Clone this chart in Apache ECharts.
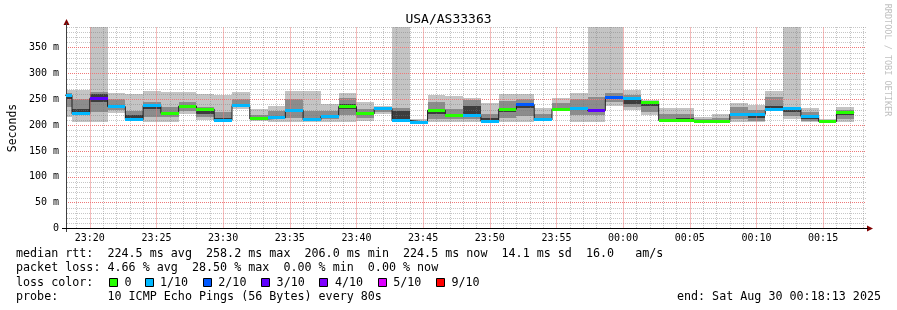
<!DOCTYPE html>
<html><head><meta charset="utf-8">
<script src="https://cdn.jsdelivr.net/npm/echarts@6/dist/echarts.min.js"></script>
<style>html,body{margin:0;padding:0;background:#fff}#c{width:897px;height:310px}</style>
</head><body><div id="c"></div>
<script>
// ---------------- data ----------------
const chartTitle = 'USA/AS33363';
const yAxisName = 'Seconds';
const watermark = 'RRDTOOL / TOBI OETIKER';
const windowStart = '23:18:13';
const windowEnd = '00:18:13';
const firstStepStart = '23:17:20';
const stepSeconds = 80;
const yMax = 390;
const xTickLabels = ['23:20','23:25','23:30','23:35','23:40','23:45','23:50','23:55','00:00','00:05','00:10','00:15'];
const yTickValues = [0,50,100,150,200,250,300,350];

// median RTT per 80s step (ms)
const median = [258,222,252,236,211,238,223,237,231,209,238,212,214,229,210,217,236,222,232,209,206,229,218,218,208,231,240,210,231,232,228,253,251,244,209,209,207,207,221,221,231,232,217,207,224.5];
// lost pings out of 10 per step
const lossTenths = [1,1,3,1,1,1,0,0,0,1,1,0,1,1,1,1,0,0,1,1,1,0,0,1,1,0,2,1,0,1,3,2,1,0,0,0,0,0,1,1,1,1,1,0,0];
// smoke: sorted ping levels (ms); Infinity = beyond graph top
const smokeMin = [216,206,206,224,209,207,207,222,210,207,231,209,207,207,207,207,207,209,222,207,205,207,207,207,206,206,207,209,230,207,207,238,230,219,207,207,206,206,207,207,229,211,207,206,206];
const smokeP3  = [235,219,225,230,211,216,216,228,216,209,235,211,211,214,209,212,220,214,226,209,206,212,211,212,208,214,218,210,231,220,220,244,235,226,209,209,207,207,212,209,232,218,209,207,212];
const smokeP5  = [251,221,245,235,212,232,221,234,222,209,236,212,213,225,211,215,232,220,229,211,207,222,216,217,209,226,233,210,231,230,226,251,240,238,210,210,207,207,218,213,234,225,212,207,219];
const smokeP6  = [258,232,261,238,219,240,226,239,232,213,240,214,217,230,214,219,240,224,231,228,208,229,220,238,213,233,240,212,233,233,232,256,252,244,212,214,208,208,224,220,238,231,217,208,224];
const smokeP8  = [262,250,265,250,227,245,235,245,236,225,250,220,228,250,228,228,252,232,234,233,209,245,232,248,222,247,251,222,243,250,255,262,258,246,222,222,212,214,236,230,255,234,226,209,230];
const smokeMax = [269,269,Infinity,262,261,267,265,264,261,259,264,232,237,266,266,241,263,245,238,Infinity,211,259,256,253,243,260,261,233,253,262,Infinity,Infinity,268,248,233,233,216,222,242,239,266,Infinity,234,211,236];

const lossLegend = [['0',0],['1/10',1],['2/10',2],['3/10',3],['4/10',4],['5/10',5],['9/10',9]];
const lossColors = {0:'#26ff00',1:'#00b8ff',2:'#0059ff',3:'#5e00ff',4:'#7e00ff',5:'#dd00ff',9:'#ff0000'};
const statLines = [
  'median rtt:  224.5 ms avg  258.2 ms max  206.0 ms min  224.5 ms now  14.1 ms sd  16.0   am/s',
  'packet loss: 4.66 % avg  28.50 % max  0.00 % min  0.00 % now',
  'loss color:',
  'probe:       10 ICMP Echo Pings (56 Bytes) every 80s'
];
const endText = 'end: Sat Aug 30 00:18:13 2025';

// ---------------- helpers ----------------
function toSec(s){ const p=s.split(':').map(Number); let v=p[0]*3600+p[1]*60+(p[2]||0); if(p[0]>=12) v-=86400; return v; }
const xMin = toSec(windowStart), xMax = toSec(windowEnd);
const step0 = toSec(firstStepStart);
const majorX = xTickLabels.map(toSec);
const minorX = []; for(let t=Math.ceil(xMin/60)*60;t<=xMax;t+=60) if(majorX.indexOf(t)<0) minorX.push(t);
const minorY = []; for(let v=10;v<=yMax;v+=10) if(yTickValues.indexOf(v)<0) minorY.push(v);
const majorY = yTickValues.filter(v => v>0);
const clampX = t => Math.max(xMin, Math.min(xMax, t));
const clampY = v => (v===Infinity ? yMax : Math.min(v, yMax));
const FONT = 'DejaVu Sans Mono';
const bandColors = ['#c4c4c4','#8c8c8c','#3c3c3c','#8c8c8c','#c4c4c4'];
const minorColor = 'rgba(120,120,120,0.42)';
const majorColor = '#ee7878';
const idx = median.map((_, i) => [i]);

function stepX(api, i){
  const t0 = step0 + i*stepSeconds, t1 = t0 + stepSeconds;
  const a = api.coord([clampX(t0), 0]), b = api.coord([clampX(t1), 0]);
  return [Math.round(a[0]), Math.round(b[0])];
}

const chart = echarts.init(document.getElementById('c'), null, {renderer:'canvas'});
const stepLine = median.map((m, i) => [step0 + i*stepSeconds, m]);
stepLine.push([step0 + median.length*stepSeconds, median[median.length-1]]);

const graphics = [
  {type:'text', left:'center', top:13, style:{text:chartTitle, font:'13px "'+FONT+'"', fill:'#000'}},
  {type:'text', x:13, y:128, rotation:Math.PI/2, style:{text:yAxisName, font:'11.5px "'+FONT+'"', fill:'#000', align:'center', verticalAlign:'middle'}},
  {type:'text', x:887, y:60, rotation:-Math.PI/2, style:{text:watermark, font:'8.5px "'+FONT+'"', fill:'#c0c0c0', align:'center', verticalAlign:'middle'}},
  {type:'polygon', shape:{points:[[63.5,25],[69.5,25],[66.5,19]]}, style:{fill:'#7f0000'}},
  {type:'polygon', shape:{points:[[867,225.5],[867,231.5],[873,228.5]]}, style:{fill:'#7f0000'}},
  {type:'line', shape:{x1:66.5,y1:27,x2:66.5,y2:23}, style:{stroke:'#404040',lineWidth:1}},
  {type:'line', shape:{x1:866,y1:228.5,x2:868,y2:228.5}, style:{stroke:'#000',lineWidth:1}},
  {type:'line', shape:{x1:62,y1:228.5,x2:66,y2:228.5}, style:{stroke:'#000',lineWidth:1}},
  {type:'line', shape:{x1:66.5,y1:228.5,x2:66.5,y2:232}, style:{stroke:'#404040',lineWidth:1}},
  {type:'text', x:881, y:296.7, style:{text:endText, font:'11.7px "'+FONT+'"', fill:'#000', align:'right', verticalAlign:'middle'}}
];
const lineY = [254.3, 268.3, 282.5, 296.7];
statLines.forEach((s, k) => graphics.push({type:'text', x:16, y:lineY[k], style:{text:s, font:'11.7px "'+FONT+'"', fill:'#000', verticalAlign:'middle'}}));
lossLegend.forEach((it, k) => {
  const lx = k===0 ? 124.5 : 160 + 58.3*(k-1);
  graphics.push({type:'rect', shape:{x:Math.round(lx-15.5)+0.5, y:278.5, width:8, height:8}, style:{fill:lossColors[it[1]], stroke:'#000', lineWidth:1}});
  graphics.push({type:'text', x:lx, y:282.5, style:{text:it[0], font:'11.7px "'+FONT+'"', fill:'#000', verticalAlign:'middle'}});
});

// dotted grid lines: one data item per line -> [isHorizontal, value]
function gridLineRender(color){
  return function(params, api){
    const horiz = api.value(0), v = api.value(1);
    const top = Math.round(api.coord([xMin, yMax])[1]), bot = Math.round(api.coord([xMin, 0])[1]);
    const left = Math.round(api.coord([xMin, 0])[0]), right = Math.round(api.coord([xMax, 0])[0]);
    const children = [];
    if (!horiz) {
      const x = Math.round(api.coord([v, 0])[0]);
      for (let y = top; y < bot; y += 2) children.push({type:'rect', shape:{x:x, y:y, width:1, height:1}, style:{fill:color}});
    } else {
      const y = Math.round(api.coord([xMin, v])[1]);
      for (let x = left + 1; x < right; x += 2) children.push({type:'rect', shape:{x:x, y:y, width:1, height:1}, style:{fill:color}});
    }
    return {type:'group', children};
  };
}
const minorItems = minorX.map(t => [0, t]).concat(minorY.map(v => [1, v]));
const majorMarks = majorX.map(t => ({xAxis:t})).concat(majorY.map(v => ({yAxis:v})));

chart.setOption({
  animation:false,
  backgroundColor:'#ffffff',
  textStyle:{fontFamily:FONT},
  grid:{left:66, right:31, top:27, bottom:81.5},
  xAxis:[
    {type:'value', min:xMin, max:xMax, z:10,
     axisLine:{show:true, onZero:false, lineStyle:{color:'#000', width:1}},
     axisTick:{show:false, customValues:majorX},
     axisLabel:{show:true, customValues:majorX, margin:5, fontSize:10, color:'#000', fontFamily:FONT,
       formatter:v => { const k = majorX.indexOf(v); return k>=0 ? xTickLabels[k] : ''; }},
     splitLine:{show:false}}
  ],
  yAxis:[
    {type:'value', min:0, max:yMax, z:10,
     axisLine:{show:true, onZero:false, lineStyle:{color:'#404040', width:1}},
     axisTick:{show:false, customValues:yTickValues},
     axisLabel:{show:true, customValues:yTickValues, margin:7, fontSize:10, color:'#000', fontFamily:FONT,
       formatter:v => v===0 ? '0' : v + ' m'},
     splitLine:{show:false}}
  ],
  series:[
    {type:'custom', name:'smoke', z:2, silent:true, data:idx,
     renderItem:(params, api) => {
       const i = api.value(0);
       const [x0, x1] = stepX(api, i);
       const lv = [smokeMin[i], smokeP3[i], smokeP5[i], smokeP6[i], smokeP8[i], smokeMax[i]].map(clampY);
       const children = [];
       for (let k=0;k<5;k++){
         const ya = Math.round(api.coord([xMin, lv[k]])[1]);
         const yb = Math.round(api.coord([xMin, lv[k+1]])[1]);
         if (ya - yb <= 0) continue;
         children.push({type:'rect', shape:{x:x0, y:yb, width:x1-x0, height:ya-yb}, style:{fill:bandColors[k]}});
       }
       return {type:'group', children};
     }},
    {type:'custom', name:'gridMinor', z:4, silent:true, data:minorItems, renderItem:gridLineRender(minorColor)},
    {type:'line', name:'gridMajor', z:5, silent:true, data:[], symbol:'none',
     markLine:{silent:true, symbol:['none','none'], label:{show:false}, animation:false,
       lineStyle:{color:majorColor, width:1, type:[1,1]}, emphasis:{disabled:true}, data:majorMarks}},
    {type:'line', name:'median', z:19, step:'end', symbol:'none', silent:true,
     lineStyle:{color:'#202020', width:1}, data:stepLine},
    {type:'custom', name:'loss', z:20, silent:true, data:idx,
     renderItem:(params, api) => {
       const i = api.value(0);
       const [x0, x1] = stepX(api, i);
       const y = api.coord([xMin, median[i]])[1];
       return {type:'rect', shape:{x:x0, y:Math.round(y-1.5), width:x1-x0, height:3}, style:{fill:lossColors[lossTenths[i]]}};
     }}
  ],
  graphic:graphics
});
</script></body></html>
